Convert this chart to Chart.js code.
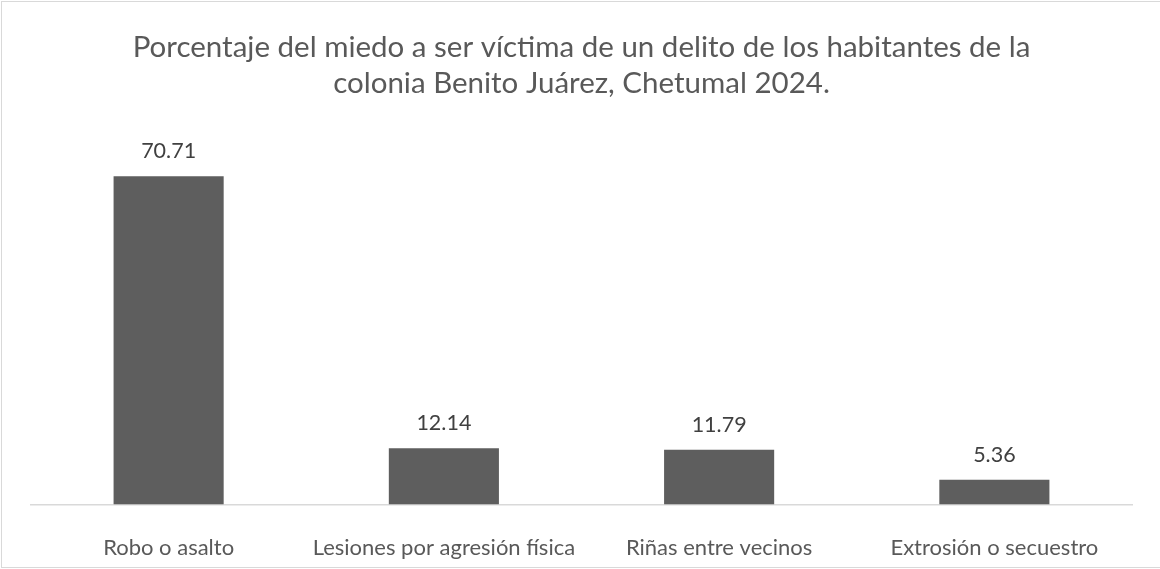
<!DOCTYPE html>
<html>
<head>
<meta charset="utf-8">
<script src="https://cdn.jsdelivr.net/npm/chart.js@4.4.1/dist/chart.umd.min.js"></script>
<style>
  html, body { margin: 0; padding: 0; background: #ffffff; overflow: hidden; }
  #wrap { position: relative; width: 1160px; height: 569px; }
  #frame { position: absolute; left: 1px; top: 1px; width: 1170px; height: 567px; border: 1px solid #d9d9d9; box-sizing: border-box; pointer-events: none; }
  canvas { position: absolute; left: 0; top: 0; }
</style>
</head>
<body>
<div id="wrap">
  <canvas id="c" width="1160" height="569"></canvas>
  <div id="frame"></div>
</div>
<script>
const categories = ["Robo o asalto", "Lesiones por agresión física", "Riñas entre vecinos", "Extrosión o secuestro"];
const values = [70.71, 12.14, 11.79, 5.36];
const titleLines = ["Porcentaje del miedo a ser víctima de un delito de los habitantes de la", "colonia Benito Juárez, Chetumal 2024."];

const FONT = "Lato, 'Open Sans', sans-serif";

const valueLabels = {
  id: 'valueLabels',
  afterDatasetsDraw(chart) {
    const ctx = chart.ctx;
    const meta = chart.getDatasetMeta(0);
    ctx.save();
    ctx.font = "21.5px " + FONT;
    ctx.fillStyle = "#404040";
    ctx.textAlign = "center";
    ctx.textBaseline = "middle";
    meta.data.forEach((bar, i) => {
      ctx.fillText(values[i].toFixed(2), bar.x, bar.y - 25);
    });
    ctx.restore();
  }
};

new Chart(document.getElementById('c'), {
  type: 'bar',
  data: {
    labels: categories,
    datasets: [{
      data: values,
      backgroundColor: '#5e5e5e',
      borderWidth: 0,
      categoryPercentage: 0.8,
      barPercentage: 0.5
    }]
  },
  options: {
    responsive: false,
    animation: false,
    devicePixelRatio: 1,
    layout: { padding: { left: 31, right: 28, top: 0, bottom: -22 } },
    plugins: {
      legend: { display: false },
      tooltip: { enabled: false },
      title: {
        display: true,
        text: titleLines,
        color: '#595959',
        font: { family: FONT, size: 29.5, weight: 'normal', lineHeight: 36 / 29.5 },
        padding: { top: 29, bottom: 32 }
      }
    },
    scales: {
      x: {
        grid: { display: false, drawTicks: false },
        border: { display: true, color: '#d9d9d9', width: 1.5 },
        ticks: { color: '#595959', font: { family: FONT, size: 22 }, padding: 30, maxRotation: 0, autoSkip: false }
      },
      y: {
        display: false,
        min: 0,
        max: 80
      }
    }
  },
  plugins: [valueLabels]
});
</script>
</body>
</html>
